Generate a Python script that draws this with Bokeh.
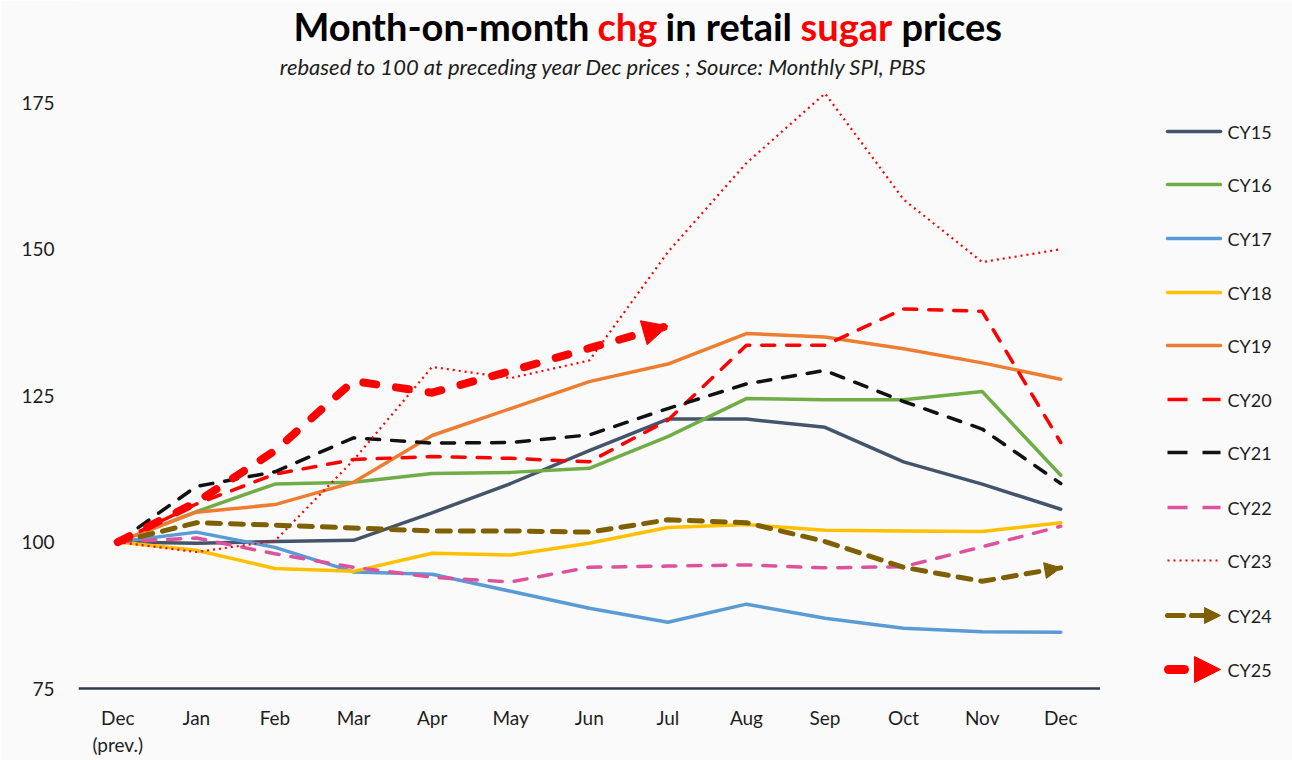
from bokeh.plotting import figure
from bokeh.models import Range1d, FixedTicker, Arrow, NormalHead, ColumnDataSource
from bokeh.core.properties import value
from bokeh.embed import file_html
from bokeh.resources import INLINE

# ---- data: index rebased to 100 at the preceding December ----
months = ["Dec\n(prev.)", "Jan", "Feb", "Mar", "Apr", "May", "Jun",
          "Jul", "Aug", "Sep", "Oct", "Nov", "Dec"]

cy15 = [100, 99.8, 100.1, 100.3, 105.0, 110.0, 115.6, 121.0, 121.0, 119.6, 113.7, 109.9, 105.6]
cy16 = [100, 105.2, 109.9, 110.2, 111.7, 111.9, 112.6, 118.0, 124.5, 124.3, 124.3, 125.7, 111.4]
cy17 = [100, 101.7, 99.1, 94.9, 94.5, 91.6, 88.7, 86.3, 89.4, 87.0, 85.3, 84.7, 84.6]
cy18 = [100, 98.6, 95.5, 95.0, 98.1, 97.8, 99.8, 102.5, 103.0, 102.0, 101.9, 101.8, 103.3]
cy19 = [100, 105.1, 106.4, 110.2, 118.2, 122.8, 127.4, 130.4, 135.6, 135.0, 133.0, 130.6, 127.8]
cy20 = [100, 106.5, 111.6, 114.1, 114.6, 114.3, 113.7, 120.8, 133.6, 133.6, 139.8, 139.4, 117.0]
cy21 = [100, 109.5, 112.0, 117.8, 116.9, 117.0, 118.3, 122.8, 127.0, 129.3, 124.0, 119.3, 110.0]
cy22 = [100, 100.7, 98.0, 95.7, 94.0, 93.2, 95.7, 95.9, 96.1, 95.6, 95.8, 99.2, 102.7]
cy23 = [100, 98.3, 100.2, 114.0, 129.9, 128.0, 131.0, 149.5, 164.7, 176.6, 158.5, 147.8, 150.0]
cy24 = [100, 103.3, 102.9, 102.4, 101.9, 101.9, 101.7, 103.8, 103.3, 100.1, 95.7, 93.3, 95.6]
cy25 = [100, 106.8, 115.6, 127.5, 125.5, 129.2, 133.1, 136.9]

y_ticks = [75, 100, 125, 150, 175]

# name, values, colour, width, dash, cap, arrow-head size (0 = none)
series = [
    ("CY15", cy15, "#44546A", 3.5, "solid", "round", 0),
    ("CY16", cy16, "#70AD47", 3.5, "solid", "round", 0),
    ("CY17", cy17, "#5B9BD5", 3.5, "solid", "round", 0),
    ("CY18", cy18, "#FFC000", 3.5, "solid", "round", 0),
    ("CY19", cy19, "#ED7D31", 3.5, "solid", "round", 0),
    ("CY20", cy20, "#FF0000", 3.5, "13 12", "round", 0),
    ("CY21", cy21, "#111111", 3.5, "13 12", "round", 0),
    ("CY22", cy22, "#DE529C", 3.5, "13 12", "round", 0),
    ("CY23", cy23, "#FF0000", 2.2, "2 4", "butt", 0),
    ("CY24", cy24, "#7F6000", 5.0, "13 10", "round", 16),
    ("CY25", cy25, "#FF0000", 8.0, "13 20", "round", 25),
]

BG = "#FAFAFA"
FONT = "Lato"
TXT = "#1E1E1E"

# ---- geometry: the frame covers the chart, title and legend areas ----
W, H = 1292, 760
LEFT, BOTTOM = 78, 70              # room for the axes
STEP = 78.58                        # pixels per month
PX_PER_UNIT = 5.857                 # pixels per index point
Y0 = 75 - 2 / PX_PER_UNIT           # a little space under the 75 baseline
X0 = -0.5
x_end = X0 + (W - LEFT) / STEP
y_end = Y0 + (H - BOTTOM) / PX_PER_UNIT


def dx(px):
    """page x pixel -> data x"""
    return X0 + (px - LEFT) / STEP


def dy(py):
    """page y pixel -> data y"""
    return Y0 + (H - BOTTOM - py) / PX_PER_UNIT


p = figure(width=W, height=H, x_range=Range1d(X0, x_end), y_range=Range1d(Y0, y_end),
           output_backend="svg", toolbar_location=None,
           min_border_left=LEFT, min_border_right=0, min_border_top=0, min_border_bottom=BOTTOM,
           background_fill_color=BG, border_fill_color=BG, outline_line_color=None)
p.xgrid.visible = False
p.ygrid.visible = False

p.xaxis.ticker = FixedTicker(ticks=list(range(len(months))))
p.xaxis.major_label_overrides = {i: m for i, m in enumerate(months)}
p.xaxis.axis_line_color = None
p.xaxis.major_tick_line_color = None
p.xaxis.minor_tick_line_color = None
p.xaxis.major_label_standoff = 9
p.xaxis.major_label_text_font = FONT
p.xaxis.major_label_text_font_size = "19px"
p.xaxis.major_label_text_color = TXT

p.yaxis.ticker = FixedTicker(ticks=y_ticks)
p.yaxis.axis_line_color = None
p.yaxis.major_tick_line_color = None
p.yaxis.minor_tick_line_color = None
p.yaxis.major_label_standoff = 18
p.yaxis.major_label_text_font = FONT
p.yaxis.major_label_text_font_size = "19px"
p.yaxis.major_label_text_color = TXT

# category-axis baseline at 75, spanning the month bands only
p.segment(x0=[X0], y0=[y_ticks[0]], x1=[len(months) - 0.5], y1=[y_ticks[0]],
          line_color="#2F3B4C", line_width=2.5)

for name, vals, color, width, dash, cap, head in series:
    xs = list(range(len(vals)))
    p.line(xs, vals, line_color=color, line_width=width, line_dash=dash, line_cap=cap,
           line_join="round")
    if head:
        p.add_layout(Arrow(end=NormalHead(size=head, fill_color=color, line_color=color, line_width=1),
                           x_start=xs[-2], y_start=vals[-2], x_end=xs[-1], y_end=vals[-1],
                           line_alpha=0))

# ---- title (mixed colours) and subtitle ----
title_parts = [("Month-on-month", "#000000", 293), ("chg", "#FF0000", 597),
               ("in retail", "#000000", 665), ("sugar", "#FF0000", 800),
               ("prices", "#000000", 901)]
tsrc = ColumnDataSource(dict(x=[dx(t[2]) for t in title_parts], y=[dy(25)] * len(title_parts),
                             text=[t[0] for t in title_parts], color=[t[1] for t in title_parts]))
p.text(x="x", y="y", text="text", text_color="color", source=tsrc, text_font=value(FONT),
       text_font_size="38px", text_font_style="bold", text_baseline="middle", text_align="left")

p.text(x=[dx(603)], y=[dy(66)],
       text=["rebased to 100 at preceding year Dec prices ; Source: Monthly SPI, PBS"],
       text_font=value(FONT), text_font_size="22px", text_font_style="italic",
       text_color=TXT, text_baseline="middle", text_align="center")

# ---- legend at the right ----
row_y = [131, 184, 238, 292, 345, 399, 452, 507, 560, 615, 669]
legend_dash = {"13 12": "20 15", "2 4": "2 4"}
for (name, vals, color, width, dash, cap, head), yy in zip(series, row_y):
    ly = dy(yy)
    if name == "CY24":
        p.line([dx(1167), dx(1183)], [ly, ly], line_color=color, line_width=width, line_cap="round")
        p.line([dx(1191), dx(1208)], [ly, ly], line_color=color, line_width=width, line_cap="round")
        p.add_layout(Arrow(end=NormalHead(size=16, fill_color=color, line_color=color, line_width=1),
                           x_start=dx(1200), y_start=ly, x_end=dx(1220), y_end=ly, line_alpha=0))
    elif name == "CY25":
        p.line([dx(1168), dx(1184)], [ly, ly], line_color=color, line_width=9, line_cap="round")
        p.add_layout(Arrow(end=NormalHead(size=26, fill_color=color, line_color=color, line_width=1),
                           x_start=dx(1200), y_start=ly, x_end=dx(1220), y_end=ly, line_alpha=0))
    else:
        p.line([dx(1167), dx(1220)], [ly, ly], line_color=color, line_width=width,
               line_dash=legend_dash.get(dash, dash),
               line_cap="butt" if dash != "solid" else "round")
    p.text(x=[dx(1227)], y=[ly], text=[name], text_font=value(FONT), text_font_size="18px",
           text_color=TXT, text_baseline="middle", text_align="left")

open("out.html", "w").write(file_html(p, INLINE))
